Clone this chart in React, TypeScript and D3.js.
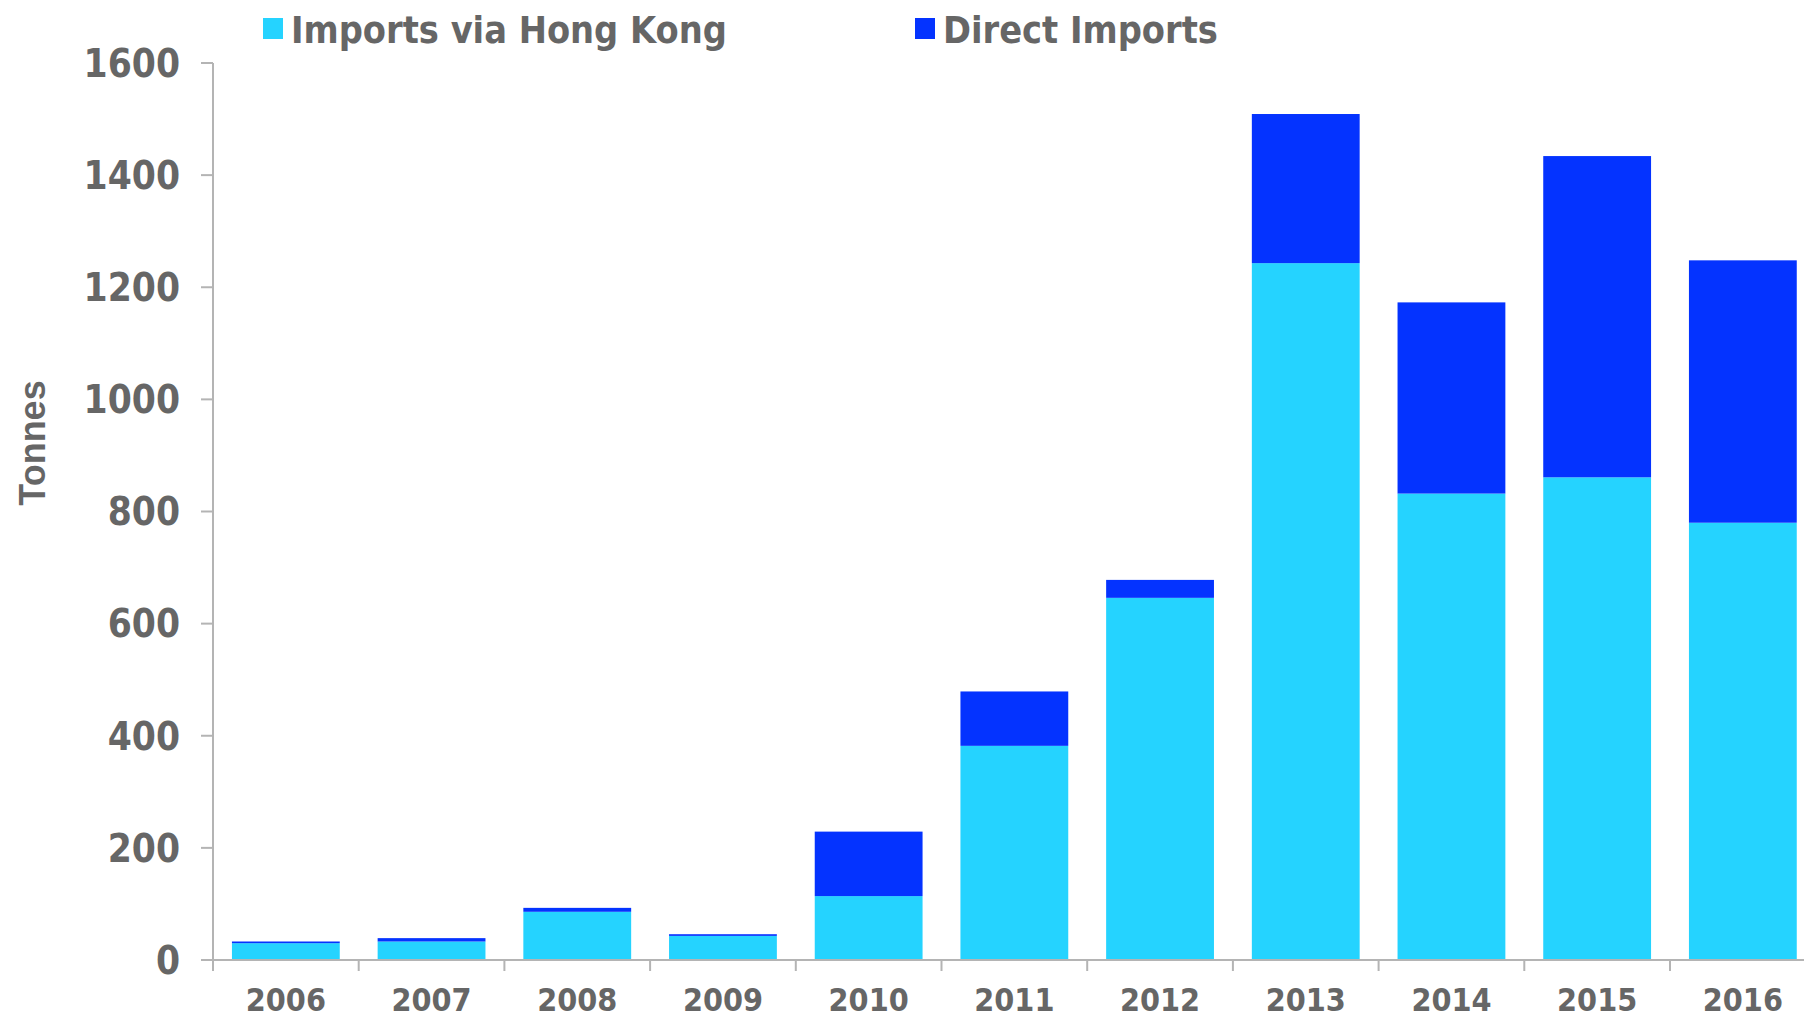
import React from "react";
import { scaleBand, scaleLinear, stack } from "d3";

const years = ["2006", "2007", "2008", "2009", "2010", "2011", "2012", "2013", "2014", "2015", "2016"];
const viaHongKong = [30, 33, 86, 43, 114, 382, 646, 1243, 832, 861, 780];
const directImports = [3, 6, 7, 3, 115, 97, 32, 266, 341, 573, 468];
const yTicks = [0, 200, 400, 600, 800, 1000, 1200, 1400, 1600];
const seriesNames = ["Imports via Hong Kong", "Direct Imports"];
const seriesColors = ["#25d3ff", "#0433ff"];

const W = 1804;
const H = 1019;
const AXIS_X = 213;
const BASE_Y = 960;
const TOP_Y = 63;
const STEP = 145.7;
const TEXT = "#666666";
const AXIS = "#b4b4b4";
const FONT = "'DejaVu Sans Condensed', 'DejaVu Sans', sans-serif";

export default function App() {
  const rows = years.map((y, i) => ({ year: y, hk: viaHongKong[i], direct: directImports[i] }));
  const stacked = stack<any>().keys(["hk", "direct"])(rows);

  const x = scaleBand<string>()
    .domain(years)
    .range([AXIS_X, AXIS_X + STEP * years.length])
    .paddingInner(0.26)
    .paddingOuter(0.13);
  const y = scaleLinear().domain([0, 1600]).range([BASE_Y, TOP_Y]);

  // category boundaries for the x-axis tick marks
  const bounds = years.map((_, i) => AXIS_X + STEP * i).concat([AXIS_X + STEP * years.length]);

  return (
    <div style={{ position: "absolute", left: 0, top: 0 }}>
      <svg width={W} height={H} style={{ display: "block" }}>
        <rect width={W} height={H} fill="#fff" />

        {stacked.map((s, si) => (
          <g key={s.key} fill={seriesColors[si]}>
            {s.map((d, i) => (
              <rect
                key={i}
                x={x(years[i])}
                width={x.bandwidth()}
                y={y(d[1])}
                height={y(d[0]) - y(d[1])}
              />
            ))}
          </g>
        ))}

        {/* y axis */}
        <g stroke={AXIS} strokeWidth={2}>
          <line x1={AXIS_X} x2={AXIS_X} y1={TOP_Y} y2={BASE_Y} />
          {yTicks.map(v => (
            <line key={v} x1={AXIS_X - 12} x2={AXIS_X} y1={y(v)} y2={y(v)} />
          ))}
        </g>
        <g fontFamily={FONT} fontWeight="bold" fontSize={38.5} fill={TEXT} textAnchor="end">
          {yTicks.map(v => (
            <text key={v} x={180} y={y(v)} dy="0.36em">
              {v}
            </text>
          ))}
        </g>

        {/* x axis */}
        <g stroke={AXIS} strokeWidth={2}>
          <line x1={AXIS_X - 12} x2={bounds[bounds.length - 1]} y1={BASE_Y} y2={BASE_Y} />
          {bounds.map((b, i) => (
            <line key={i} x1={b} x2={b} y1={BASE_Y} y2={BASE_Y + 11} />
          ))}
        </g>
        <g fontFamily={FONT} fontWeight="bold" fontSize={32} fill={TEXT} textAnchor="middle">
          {years.map(yr => (
            <text key={yr} x={x(yr)! + x.bandwidth() / 2} y={1011}>
              {yr}
            </text>
          ))}
        </g>

        <text
          transform="translate(45, 443) rotate(-90)"
          textAnchor="middle"
          fontFamily="'Liberation Sans', Arial, sans-serif"
          fontWeight="bold"
          fontSize={36}
          fill={TEXT}
        >
          Tonnes
        </text>

        {/* legend */}
        {seriesNames.map((name, i) => {
          const lx = [263, 915][i];
          return (
            <g key={name}>
              <rect x={lx} y={18} width={20} height={21} fill={seriesColors[i]} />
              <text
                x={lx + 28}
                y={43}
                fontFamily={FONT}
                fontWeight="bold"
                fontSize={37.5}
                fill={TEXT}
              >
                {name}
              </text>
            </g>
          );
        })}
      </svg>
    </div>
  );
}
